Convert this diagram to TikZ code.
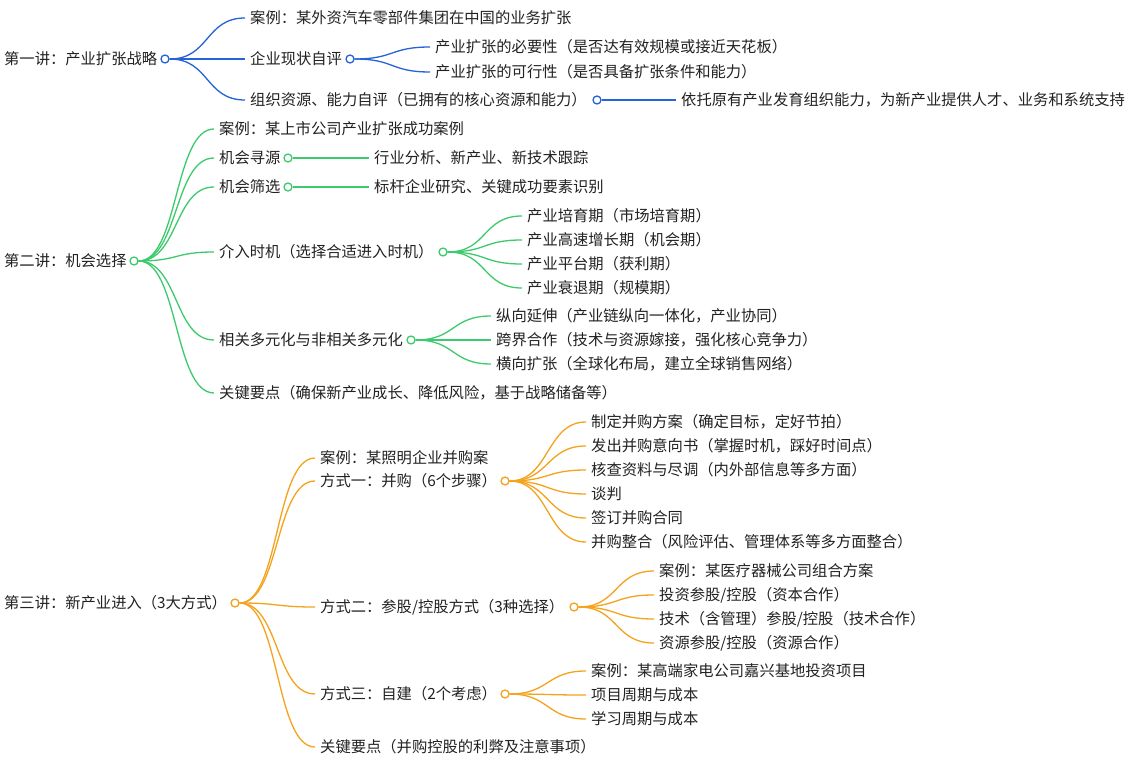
\documentclass[tikz,border=0pt]{standalone}
\usepackage{fontspec}
\setmainfont{Noto Sans CJK SC}
\definecolor{cb}{HTML}{2463D8}
\definecolor{cg}{HTML}{3CCB6C}
\definecolor{co}{HTML}{F5A31D}
\definecolor{tx}{HTML}{222222}
\tikzset{
 t/.style={anchor=west,inner sep=0pt,text=tx,font=\fontsize{15.3}{16}\selectfont},
 dot/.style={circle,draw=#1,fill=white,line width=1.3pt,minimum size=8pt,inner sep=0pt},
 ln/.style={line width=1.3pt}
}
\newcommand\br[4]{\draw[ln,#1] (#2.east) .. controls +(#4,0) and +(-#4,0) .. ([xshift=-5pt]#3.west);}
\begin{document}
\begin{tikzpicture}[x=1pt,y=-1pt]
\useasboundingbox[fill=white] (0,0) rectangle (1144,762);
% ---- blue
\node[t] (a) at (4,59) {第一讲：产业扩张战略};
\node[dot=cb] (ad) at (165,59) {};
\node[t] (a1) at (250,18) {案例：某外资汽车零部件集团在中国的业务扩张};
\node[t] (a2) at (250,59) {企业现状自评};
\node[dot=cb] (a2d) at (350,59) {};
\node[t] (a21) at (435,47) {产业扩张的必要性（是否达有效规模或接近天花板）};
\node[t] (a22) at (435,72) {产业扩张的可行性（是否具备扩张条件和能力）};
\node[t] (a3) at (250,100) {组织资源、能力自评（已拥有的核心资源和能力）};
\node[dot=cb] (a3d) at (597,100) {};
\node[t] (a31) at (681,100) {依托原有产业发育组织能力，为新产业提供人才、业务和系统支持};
\foreach \c in {a1,a2,a3} {\br{cb}{ad}{\c}{40}}
\foreach \c in {a21,a22} {\br{cb}{a2d}{\c}{40}}
\br{cb}{a3d}{a31}{30}
% ---- green
\node[t] (b) at (4,261) {第二讲：机会选择};
\node[dot=cg] (bd) at (134,261) {};
\node[t] (b1) at (219,129) {案例：某上市公司产业扩张成功案例};
\node[t] (b2) at (219,158) {机会寻源};
\node[dot=cg] (b2d) at (288,158) {};
\node[t] (b21) at (374,158) {行业分析、新产业、新技术跟踪};
\node[t] (b3) at (219,187) {机会筛选};
\node[dot=cg] (b3d) at (288,187) {};
\node[t] (b31) at (374,187) {标杆企业研究、关键成功要素识别};
\node[t] (b4) at (219,252) {介入时机（选择合适进入时机）};
\node[dot=cg] (b4d) at (443,252) {};
\node[t] (b41) at (527,216) {产业培育期（市场培育期）};
\node[t] (b42) at (527,240) {产业高速增长期（机会期）};
\node[t] (b43) at (527,264) {产业平台期（获利期）};
\node[t] (b44) at (527,288) {产业衰退期（规模期）};
\node[t] (b5) at (219,340) {相关多元化与非相关多元化};
\node[dot=cg] (b5d) at (411,340) {};
\node[t] (b51) at (496,316) {纵向延伸（产业链纵向一体化，产业协同）};
\node[t] (b52) at (496,340) {跨界合作（技术与资源嫁接，强化核心竞争力）};
\node[t] (b53) at (496,364) {横向扩张（全球化布局，建立全球销售网络）};
\node[t] (b6) at (219,393) {关键要点（确保新产业成长、降低风险，基于战略储备等）};
\foreach \c in {b1,b2,b3,b4,b5,b6} {\br{cg}{bd}{\c}{40}}
\br{cg}{b2d}{b21}{30}
\br{cg}{b3d}{b31}{30}
\foreach \c in {b41,b42,b43,b44} {\br{cg}{b4d}{\c}{40}}
\foreach \c in {b51,b52,b53} {\br{cg}{b5d}{\c}{40}}
% ---- orange
\node[t] (c) at (4,603) {第三讲：新产业进入（3大方式）};
\node[dot=co] (cd) at (235,603) {};
\node[t] (c1) at (320,458) {案例：某照明企业并购案};
\node[t] (c2) at (320,481) {方式一：并购（6个步骤）};
\node[dot=co] (c2d) at (505,481) {};
\node[t] (c21) at (591,422) {制定并购方案（确定目标，定好节拍）};
\node[t] (c22) at (591,446) {发出并购意向书（掌握时机，踩好时间点）};
\node[t] (c23) at (591,470) {核查资料与尽调（内外部信息等多方面）};
\node[t] (c24) at (591,494) {谈判};
\node[t] (c25) at (591,518) {签订并购合同};
\node[t] (c26) at (591,542) {并购整合（风险评估、管理体系等多方面整合）};
\node[t] (c3) at (320,607) {方式二：参股/控股方式（3种选择）};
\node[dot=co] (c3d) at (574,607) {};
\node[t] (c31) at (659,571) {案例：某医疗器械公司组合方案};
\node[t] (c32) at (659,595) {投资参股/控股（资本合作）};
\node[t] (c33) at (659,619) {技术（含管理）参股/控股（技术合作）};
\node[t] (c34) at (659,643) {资源参股/控股（资源合作）};
\node[t] (c4) at (320,694) {方式三：自建（2个考虑）};
\node[dot=co] (c4d) at (505,694) {};
\node[t] (c41) at (591,671) {案例：某高端家电公司嘉兴基地投资项目};
\node[t] (c42) at (591,695) {项目周期与成本};
\node[t] (c43) at (591,719) {学习周期与成本};
\node[t] (c5) at (320,747) {关键要点（并购控股的利弊及注意事项）};
\foreach \c in {c1,c2,c3,c4,c5} {\br{co}{cd}{\c}{40}}
\foreach \c in {c21,c22,c23,c24,c25,c26} {\br{co}{c2d}{\c}{40}}
\foreach \c in {c31,c32,c33,c34} {\br{co}{c3d}{\c}{40}}
\foreach \c in {c41,c42,c43} {\br{co}{c4d}{\c}{40}}
\end{tikzpicture}
\end{document}
